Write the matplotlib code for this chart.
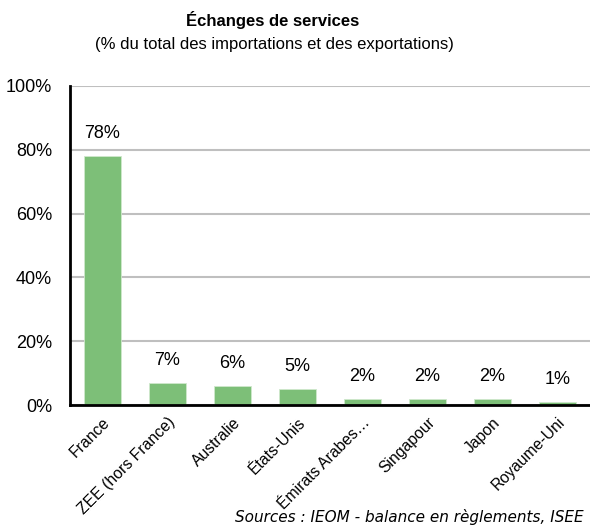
import matplotlib.pyplot as plt
from matplotlib.ticker import FuncFormatter

plt.rcParams['font.family'] = ['Liberation Sans', 'DejaVu Sans']

# data
pays = ['France', 'ZEE (hors France)', 'Australie', 'États-Unis',
        'Émirats Arabes…', 'Singapour', 'Japon', 'Royaume-Uni']
parts = [78, 7, 6, 5, 2, 2, 2, 1]
yticks = [0, 20, 40, 60, 80, 100]

vert = '#7dbf78'

fig = plt.figure(figsize=(5.9, 5.28), dpi=100)
ax = fig.add_axes([70/590, 1 - 405/528, 520/590, 319/528])

x = range(len(pays))
ax.bar(x, parts, width=0.57, color=vert, edgecolor='#cfe8cc', linewidth=0.6, zorder=3)

# value labels
for i, v in enumerate(parts):
    ax.annotate('%d%%' % v, (i, v), xytext=(0, 10), textcoords='offset points',
                ha='center', va='bottom', fontsize=13)

ax.set_xlim(-0.5, len(pays) - 0.5)
ax.set_ylim(0, 100)
ax.set_yticks(yticks)
ax.yaxis.set_major_formatter(FuncFormatter(lambda v, p: '%d%%' % v))
ax.grid(axis='y', color='#bfbfbf', linewidth=1.5, zorder=0)
ax.set_axisbelow(True)

for s in ['top', 'right']:
    ax.spines[s].set_visible(False)
for s in ['left', 'bottom']:
    ax.spines[s].set_color('black')
    ax.spines[s].set_linewidth(2)
    ax.spines[s].set_zorder(4)

ax.tick_params(axis='y', length=0, pad=13, labelsize=13)
ax.tick_params(axis='x', length=0, pad=7, labelsize=11.3)
ax.set_xticks(list(x))
ax.set_xticklabels(pays, rotation=45, ha='right', rotation_mode='anchor')

fig.text(273/590, 1 - 20/528, 'Échanges de services', ha='center', va='center',
         fontsize=12, fontweight='bold')
fig.text(274/590, 1 - 45/528, '(% du total des importations et des exportations)',
         ha='center', va='center', fontsize=12)
fig.text(584/590, 1 - 517/528, 'Sources : IEOM - balance en règlements, ISEE',
         ha='right', va='center', fontsize=11, style='italic', family='DejaVu Sans')

fig.savefig('out.png', dpi=100)
